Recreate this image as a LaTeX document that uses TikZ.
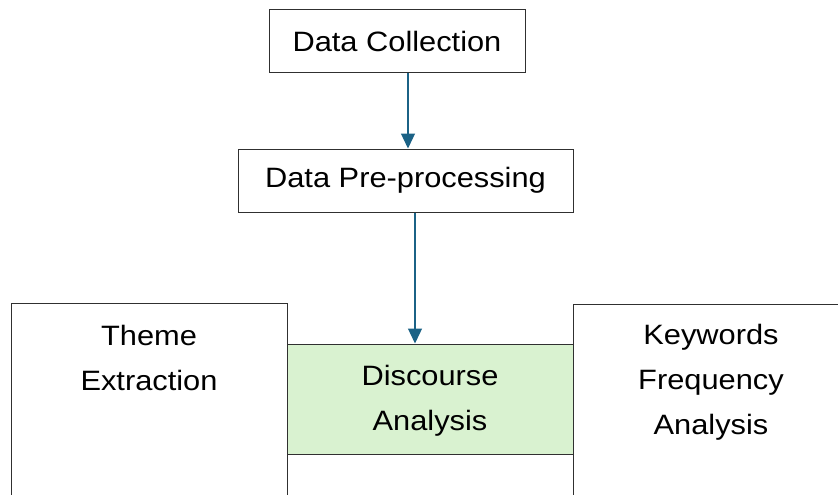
\documentclass[tikz,border=0pt]{standalone}
\usepackage{fontspec}
\setmainfont{Liberation Sans}[FakeStretch=1.1]
\usetikzlibrary{arrows.meta}
\definecolor{arrowteal}{HTML}{1B6286}
\definecolor{lightgreen}{HTML}{D9F2D0}
\definecolor{edgegray}{HTML}{303030}
\tikzset{
  box/.style={draw=edgegray, line width=1pt, inner sep=0pt, font=\fontsize{28}{45}\selectfont},
  lbl/.style={align=center, inner sep=0pt, font=\fontsize{28}{45}\selectfont},
  arr/.style={draw=arrowteal, line width=1.3pt, -{Triangle[width=14pt,length=15pt]}},
  edge/.style={draw=edgegray, line width=1pt},
}
\begin{document}
\begin{tikzpicture}[x=1pt,y=-1pt]
\useasboundingbox (0,0) rectangle (838,495);
\node[box, minimum width=256pt, minimum height=63pt] (dc) at (397,41.5) {Data Collection};
\node[box, minimum width=335pt, minimum height=63pt] (pp) at (405.5,180.5) {Data Pre-processing};
\node[box, fill=lightgreen, minimum width=286pt, minimum height=110pt] (da) at (430,399) {};
\node[lbl] (dat) at (430,401) {Discourse\\Analysis};
% open side boxes
\draw[edge] (11,497) -- (11,303) -- (287,303) -- (287,497);
\draw[edge] (840,304) -- (573,304) -- (573,497);
\node[lbl] (te) at (149,357.5) {Theme\\Extraction};
\node[lbl] (kf) at (711,382) {Keywords\\Frequency\\Analysis};
% arrows
\coordinate (a1) at (408,0);
\coordinate (a2) at (415,0);
\draw[arr] (a1 |- dc.south) -- (a1 |- pp.north);
\draw[arr] (a2 |- pp.south) -- (a2 |- da.north);
\end{tikzpicture}
\end{document}
